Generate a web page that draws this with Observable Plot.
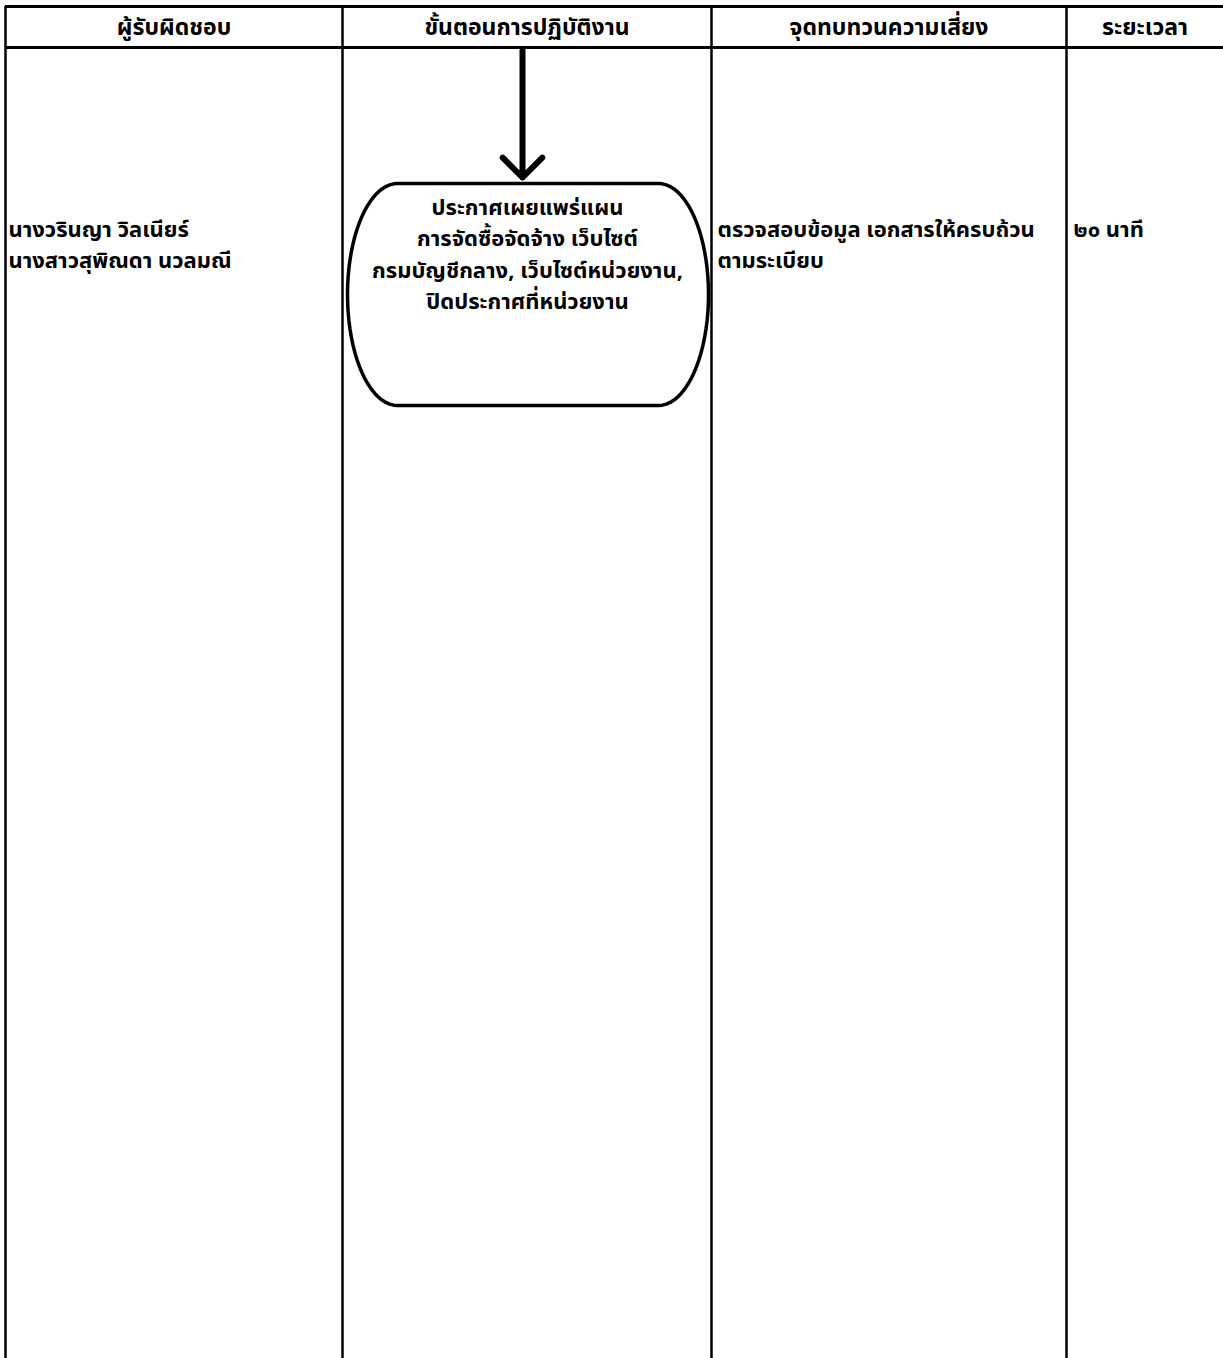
<!DOCTYPE html>
<html><head><meta charset="utf-8">
<script src="https://cdn.jsdelivr.net/npm/d3@7"></script>
<script src="https://cdn.jsdelivr.net/npm/@observablehq/plot@0.6"></script>
<style>
html,body{margin:0;padding:0;background:#fff;}
#chart{width:1223px;height:1358px;overflow:hidden;}
</style>
</head><body><div id="chart"></div>
<script>
// ---- content ----
const headers = ["ผู้รับผิดชอบ", "ขั้นตอนการปฏิบัติงาน", "จุดทบทวนความเสี่ยง", "ระยะเวลา"];
const responsible = ["นางวรินญา วิลเนียร์", "นางสาวสุพิณดา นวลมณี"];
const stepLines = ["ประกาศเผยแพร่แผน", "การจัดซื้อจัดจ้าง เว็บไซต์", "กรมบัญชีกลาง, เว็บไซต์หน่วยงาน,", "ปิดประกาศที่หน่วยงาน"];
const riskLines = ["ตรวจสอบข้อมูล เอกสารให้ครบถ้วน", "ตามระเบียบ"];
const duration = ["๒๐ นาที"];

// ---- layout ----
const W = 1223, H = 1358;
const colEdges = [5, 342, 711, 1066, 1223];
const topY = 6, headY = 47, headTextY = 27;
const bodyY = 229, lineH = 31;
const box = {x0: 347, x1: 708, y0: 183, y1: 405, ex: 50};
const stepX = 527, stepY0 = 207, stepLH = 31.5;
const font = "'Noto Sans Thai', 'Noto Sans Thai UI', 'Loma', 'Garuda', 'Tahoma', 'DejaVu Sans', sans-serif";

const headerData = headers.map((h, i) => ({t: h, x: (colEdges[i] + colEdges[i + 1]) / 2, y: headTextY}));
const leftData = [
  ...responsible.map((t, i) => ({t, x: colEdges[0] + 3, y: bodyY + i * lineH})),
  ...riskLines.map((t, i) => ({t, x: colEdges[2] + 6, y: bodyY + i * lineH})),
  ...duration.map((t, i) => ({t, x: colEdges[3] + 7, y: bodyY + i * lineH}))
];
const stepData = stepLines.map((t, i) => ({t, x: stepX, y: stepY0 + i * stepLH}));

// stadium shape with elliptical ends
const cy = (box.y0 + box.y1) / 2, ry = (box.y1 - box.y0) / 2;
const xl = box.x0 + box.ex, xr = box.x1 - box.ex;
const shape = [];
shape.push({x: xl, y: box.y0}, {x: xr, y: box.y0});
for (let k = 0; k <= 40; k++) { const a = -Math.PI / 2 + Math.PI * k / 40; shape.push({x: xr + box.ex * Math.cos(a), y: cy + ry * Math.sin(a)}); }
shape.push({x: xl, y: box.y1});
for (let k = 0; k <= 40; k++) { const a = Math.PI / 2 + Math.PI * k / 40; shape.push({x: xl + box.ex * Math.cos(a), y: cy + ry * Math.sin(a)}); }

const vlines = colEdges.slice(0, 4).map(x => ({x}));

const chart = Plot.plot({
  width: W, height: H,
  margin: 0,
  x: {domain: [0, W], range: [0, W], axis: null},
  y: {domain: [0, H], range: [0, H], axis: null},
  style: {background: "#fff", fontFamily: font},
  marks: [
    Plot.ruleY([topY], {x1: colEdges[0], x2: W, stroke: "#000", strokeWidth: 3}),
    Plot.ruleY([headY], {x1: colEdges[0], x2: W, stroke: "#000", strokeWidth: 3}),
    Plot.ruleX(vlines, {x: "x", y1: topY, y2: H, stroke: "#000", strokeWidth: 2.5}),
    Plot.text(headerData, {x: "x", y: "y", text: "t", fontSize: 23, fontWeight: "bold", fill: "#000", textAnchor: "middle", lineAnchor: "middle", fontFamily: font}),
    Plot.arrow([{x1: stepX - 5, y1: headY + 3, x2: stepX - 5, y2: box.y0 - 6}], {x1: "x1", y1: "y1", x2: "x2", y2: "y2", stroke: "#000", strokeWidth: 6, headLength: 7, headAngle: 90}),
    Plot.line(shape, {x: "x", y: "y", stroke: "#000", strokeWidth: 3.5, curve: "linear-closed"}),
    Plot.text(stepData, {x: "x", y: "y", text: "t", fontSize: 22, fontWeight: "bold", fill: "#000", textAnchor: "middle", lineAnchor: "middle", fontFamily: font}),
    Plot.text(leftData, {x: "x", y: "y", text: "t", fontSize: 22, fontWeight: "bold", fill: "#000", textAnchor: "start", lineAnchor: "middle", fontFamily: font})
  ]
});
document.getElementById("chart").appendChild(chart);
</script>
</body></html>
